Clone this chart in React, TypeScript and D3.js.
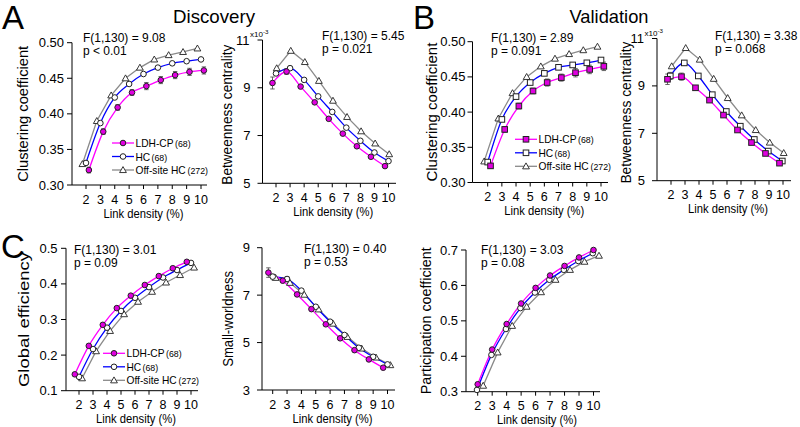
import React from 'react';
import * as d3 from 'd3';

// link densities (%) on the x axis
const density = [2, 3, 4, 5, 6, 7, 8, 9, 10];
const groupNames = ['LDH-CP', 'HC', 'Off-site HC'];
const groupSizes = ['(68)', '(68)', '(272)'];

// A – discovery, clustering coefficient
const discClustLdh = [0.321, 0.375, 0.409, 0.430, 0.439, 0.4475, 0.4545, 0.459, 0.461];
const discClustHc = [0.331, 0.387, 0.423, 0.442, 0.456, 0.465, 0.471, 0.474, 0.4765];
const discClustOff = [0.3295, 0.390, 0.426, 0.450, 0.465, 0.4765, 0.4826, 0.487, 0.492];
const discClustLdhErr = [0.004, 0.004, 0.004, 0.004, 0.005, 0.005, 0.005, 0.005, 0.005];
const discClustHcErr = [0.002, 0.002, 0.002, 0.002, 0.002, 0.002, 0.002, 0.002, 0.002];

// A – discovery, betweenness centrality (x10^-3)
const discBetwLdh = [9.20, 9.68, 9.05, 8.39, 7.70, 7.08, 6.55, 6.11, 5.72];
const discBetwHc = [9.60, 9.82, 9.33, 8.64, 7.99, 7.33, 6.78, 6.29, 5.93];
const discBetwOff = [9.82, 10.55, 10.08, 9.29, 8.46, 7.78, 7.18, 6.67, 6.22];
const discBetwLdhErr = [0.25, 0.12, 0.07, 0.05, 0.04, 0.04, 0.04, 0.04, 0.04];
const discBetwHcErr = [0.08, 0.08, 0.04, 0.03, 0.03, 0.03, 0.03, 0.03, 0.03];

// B – validation, clustering coefficient
const valClustLdh = [0.3236, 0.3754, 0.4086, 0.430, 0.442, 0.449, 0.456, 0.4606, 0.465];
const valClustHc = [0.329, 0.3896, 0.422, 0.442, 0.455, 0.4636, 0.467, 0.470, 0.474];
const valClustOff = [0.330, 0.391, 0.427, 0.450, 0.465, 0.476, 0.4825, 0.488, 0.493];
const valClustLdhErr = [0.003, 0.004, 0.004, 0.004, 0.005, 0.005, 0.006, 0.006, 0.006];
const valClustHcErr = [0.002, 0.002, 0.002, 0.002, 0.002, 0.002, 0.002, 0.002, 0.002];

// B – validation, betweenness centrality (x10^-3)
const valBetwLdh = [9.28, 9.39, 8.92, 8.40, 7.77, 7.14, 6.61, 6.15, 5.74];
const valBetwHc = [9.42, 9.97, 9.42, 8.63, 7.92, 7.30, 6.74, 6.25, 5.83];
const valBetwOff = [9.83, 10.60, 10.11, 9.30, 8.49, 7.76, 7.14, 6.61, 6.17];
const valBetwLdhErr = [0.22, 0.15, 0.05, 0.04, 0.04, 0.04, 0.04, 0.04, 0.04];
const valBetwHcErr = [0.15, 0.10, 0.04, 0.03, 0.03, 0.03, 0.03, 0.03, 0.03];

// C – global efficiency
const globLdh = [0.146, 0.226, 0.285, 0.332, 0.367, 0.397, 0.422, 0.444, 0.462];
const globHc = [0.139, 0.217, 0.277, 0.324, 0.361, 0.391, 0.418, 0.439, 0.459];
const globOff = [0.135, 0.211, 0.268, 0.315, 0.350, 0.378, 0.404, 0.425, 0.446];

// C – small-worldness
const swLdh = [7.95, 7.61, 7.03, 6.41, 5.77, 5.18, 4.68, 4.29, 3.94];
const swHc = [7.78, 7.68, 7.19, 6.51, 5.88, 5.32, 4.78, 4.40, 4.08];
const swOff = [7.73, 7.52, 7.02, 6.40, 5.80, 5.24, 4.75, 4.37, 4.05];
const swLdhErr = [0.20, 0.08, 0.08, 0.06, 0.05, 0.05, 0.05, 0.05, 0.05];
const swHcErr = [0.10, 0.10, 0.06, 0.05, 0.05, 0.05, 0.05, 0.05, 0.05];

// C – participation coefficient
const partLdh = [0.321, 0.419, 0.491, 0.549, 0.593, 0.628, 0.655, 0.679, 0.700];
const partHc = [0.305, 0.404, 0.477, 0.536, 0.580, 0.616, 0.644, 0.669, 0.691];
const partOff = [0.317, 0.411, 0.486, 0.540, 0.581, 0.616, 0.644, 0.667, 0.684];

const FONT = '"Liberation Sans", Arial, Helvetica, sans-serif';
const PINK = '#ff00ff';
const BLUE = '#0000ff';
const GRAY = '#8a8a8a';

const zeros = density.map(() => 0);

const panels = [
  {
    ylabel: 'Clustering coefficient', ylen: 136, ylx: 28, yld: 0,
    yDomain: [0.30, 0.50], yTicks: [0.30, 0.35, 0.40, 0.45, 0.50], fmt: '.2f', lab: 8,
    axisX: 72, yB: 185, yT: 42.7, t2: 86, t10: 201, xEnd: 207,
    ldh: discClustLdh, hc: discClustHc, off: discClustOff, ldhErr: discClustLdhErr, hcErr: discClustHcErr,
    dx: [0.2, 0, -0.25], shape: 'circle',
    stat: ['F(1,130) = 9.08', 'p < 0.01'], sx: 83, sy: 42,
    legend: { x: 112, y: 143 },
  },
  {
    ylabel: 'Betweenness centrality', ylen: 140, ylx: 232, yld: 3,
    yDomain: [5, 11], yTicks: [5, 7, 9, 11], fmt: 'd', lab: 12, exp: true,
    axisX: 262.5, yB: 183.3, yT: 40, t2: 276, t10: 388.5, xEnd: 396,
    ldh: discBetwLdh, hc: discBetwHc, off: discBetwOff, ldhErr: discBetwLdhErr, hcErr: discBetwHcErr,
    dx: [-0.25, 0, 0.05], shape: 'circle',
    stat: ['F(1,130) = 5.45', 'p = 0.021'], sx: 322, sy: 40,
  },
  {
    ylabel: 'Clustering coefficient', ylen: 139, ylx: 437, yld: 0,
    yDomain: [0.30, 0.50], yTicks: [0.30, 0.35, 0.40, 0.45, 0.50], fmt: '.2f', lab: 7,
    axisX: 472.5, yB: 182.5, yT: 41.7, t2: 487.7, t10: 601, xEnd: 608,
    ldh: valClustLdh, hc: valClustHc, off: valClustOff, ldhErr: valClustLdhErr, hcErr: valClustHcErr,
    dx: [0.2, 0, -0.25], shape: 'square',
    stat: ['F(1,130) = 2.89', 'p = 0.091'], sx: 491, sy: 42,
    legend: { x: 515, y: 139.3 },
  },
  {
    ylabel: 'Betweenness centrality', ylen: 142, ylx: 631, yld: 3,
    yDomain: [5, 11], yTicks: [5, 7, 9, 11], fmt: 'd', lab: 12, exp: true,
    axisX: 657, yB: 180.7, yT: 38.5, t2: 671, t10: 783, xEnd: 791,
    ldh: valBetwLdh, hc: valBetwHc, off: valBetwOff, ldhErr: valBetwLdhErr, hcErr: valBetwHcErr,
    dx: [-0.25, -0.05, 0.05], shape: 'square',
    stat: ['F(1,130) = 3.38', 'p = 0.068'], sx: 715, sy: 39.5,
  },
  {
    ylabel: 'Global efficiency', ylen: 135, ylx: 29, yld: 0,
    yDomain: [0.1, 0.5], yTicks: [0.1, 0.2, 0.3, 0.4, 0.5], fmt: '.1f', lab: 8.5,
    axisX: 66, yB: 390.7, yT: 248.3, t2: 79, t10: 191, xEnd: 198,
    ldh: globLdh, hc: globHc, off: globOff, ldhErr: zeros, hcErr: zeros,
    dx: [-0.3, 0, 0.22], shape: 'circle',
    stat: ['F(1,130) = 3.01', 'p = 0.09'], sx: 74, sy: 254,
    legend: { x: 103, y: 353.3 },
  },
  {
    ylabel: 'Small-worldness', ylen: 96, ylx: 233, yls: 14, yld: 0,
    yDomain: [3, 9], yTicks: [3, 5, 7, 9], fmt: 'd', lab: 12,
    axisX: 262, yB: 390, yT: 247.7, t2: 272.7, t10: 387.5, xEnd: 395,
    ldh: swLdh, hc: swHc, off: swOff, ldhErr: swLdhErr, hcErr: swHcErr,
    dx: [-0.3, 0, 0.2], shape: 'circle',
    stat: ['F(1,130) = 0.40', 'p = 0.53'], sx: 304, sy: 252.5,
  },
  {
    ylabel: 'Participation coefficient', ylen: 147, ylx: 431, yld: 0,
    yDomain: [0.3, 0.7], yTicks: [0.3, 0.4, 0.5, 0.6, 0.7], fmt: '.1f', lab: 8,
    axisX: 466, yB: 391.7, yT: 250, t2: 477.7, t10: 593.5, xEnd: 600,
    ldh: partLdh, hc: partHc, off: partOff, ldhErr: zeros, hcErr: zeros,
    dx: [0, -0.05, 0.38], shape: 'circle',
    stat: ['F(1,130) = 3.03', 'p = 0.08'], sx: 481, sy: 254,
  },
];

function Marker({ kind, x, y, fill }: { kind: string; x: number; y: number; fill: string }) {
  if (kind === 'square') {
    return <rect x={x - 2.8} y={y - 2.8} width={5.6} height={5.6} fill={fill} stroke="#222" strokeWidth={1} />;
  }
  if (kind === 'tri') {
    const s = 3.4;
    return (
      <path d={`M${x},${y - s}L${x + s},${y + s * 0.75}L${x - s},${y + s * 0.75}Z`} fill="#fff" stroke="#222" strokeWidth={0.9} />
    );
  }
  return <circle cx={x} cy={y} r={2.8} fill={fill} stroke="#222" strokeWidth={1} />;
}

function Panel({ p }: { p: any }) {
  const x = d3.scaleLinear().domain([2, 10]).range([p.t2, p.t10]);
  const y = d3.scaleLinear().domain(p.yDomain).range([p.yB, p.yT]);
  const fmt = d3.format(p.fmt);
  const top = p.yTicks[p.yTicks.length - 1];

  const series = [
    { vals: p.ldh, err: p.ldhErr, color: PINK, fill: '#e000e0', kind: p.shape, dx: p.dx[0], curve: d3.curveMonotoneX },
    { vals: p.hc, err: p.hcErr, color: BLUE, fill: '#fff', kind: p.shape, dx: p.dx[1], curve: d3.curveMonotoneX },
    { vals: p.off, err: zeros, color: GRAY, fill: '#fff', kind: 'tri', dx: p.dx[2], curve: d3.curveLinear },
  ];
  const order = [2, 1, 0];

  const ylMid = (p.yB + p.yT) / 2 + p.yld;

  return (
    <g>
      {/* axes */}
      <line x1={p.axisX} x2={p.axisX} y1={p.yT} y2={p.yB} stroke="#000" strokeWidth={1} />
      <line x1={p.axisX} x2={p.xEnd} y1={p.yB} y2={p.yB} stroke="#000" strokeWidth={1} />
      {p.yTicks.map((t: number) => (
        <g key={t}>
          <line x1={p.axisX - 5} x2={p.axisX} y1={y(t)} y2={y(t)} stroke="#000" />
          <text
            x={p.axisX - (p.exp && t === top ? 13 : p.lab)}
            y={y(t) + 4.5}
            textAnchor="end"
            fontSize={13}
            fontFamily={FONT}
          >
            {fmt(t)}
          </text>
        </g>
      ))}
      {p.exp && (
        <text x={p.axisX - 12.5} y={p.yT - 3} fontSize={8} fontFamily={FONT}>
          x10<tspan fontSize={6.2} dy={-3}>-3</tspan>
        </text>
      )}
      {density.map((d) => (
        <g key={d}>
          <line x1={x(d)} x2={x(d)} y1={p.yB} y2={p.yB + 4} stroke="#000" />
          <text x={x(d)} y={p.yB + 18.5} textAnchor="middle" fontSize={12.5} fontFamily={FONT}>
            {d}
          </text>
        </g>
      ))}
      <text
        x={(p.axisX + p.xEnd) / 2 + 4}
        y={p.yB + 32.5}
        textAnchor="middle"
        fontSize={12.5}
        fontFamily={FONT}
        textLength={80}
        lengthAdjust="spacingAndGlyphs"
      >
        Link density (%)
      </text>
      <text
        transform={`translate(${p.ylx},${ylMid}) rotate(-90)`}
        textAnchor="middle"
        fontSize={p.yls || 15.5}
        fontFamily={FONT}
        textLength={p.ylen}
        lengthAdjust="spacingAndGlyphs"
      >
        {p.ylabel}
      </text>

      {/* statistics */}
      <text x={p.sx} y={p.sy} fontSize={12} fontFamily={FONT}>
        {p.stat[0]}
      </text>
      <text x={p.sx} y={p.sy + 13} fontSize={12} fontFamily={FONT}>
        {p.stat[1]}
      </text>

      {/* lines */}
      {order.map((i) => {
        const s = series[i];
        const line = d3
          .line<number>()
          .x((v, k) => x(density[k] + s.dx))
          .y((v) => y(v))
          .curve(s.curve);
        return <path key={'l' + i} d={line(s.vals) || ''} fill="none" stroke={s.color} strokeWidth={1.3} />;
      })}
      {/* error bars */}
      {order.map((i) => {
        const s = series[i];
        return s.vals.map((v: number, k: number) => {
          const e = s.err[k];
          if (!e) return null;
          const cx = x(density[k] + s.dx);
          return (
            <g key={'e' + i + '-' + k} stroke="#555" strokeWidth={0.9}>
              <line x1={cx} x2={cx} y1={y(v - e)} y2={y(v + e)} />
              <line x1={cx - 2.2} x2={cx + 2.2} y1={y(v - e)} y2={y(v - e)} />
              <line x1={cx - 2.2} x2={cx + 2.2} y1={y(v + e)} y2={y(v + e)} />
            </g>
          );
        });
      })}
      {/* markers */}
      {order.map((i) => {
        const s = series[i];
        return s.vals.map((v: number, k: number) => (
          <Marker key={'m' + i + '-' + k} kind={s.kind} x={x(density[k] + s.dx)} y={y(v)} fill={s.fill} />
        ));
      })}

      {p.legend && <Legend x={p.legend.x} y={p.legend.y} shape={p.shape} />}
    </g>
  );
}

function Legend({ x, y, shape }: { x: number; y: number; shape: string }) {
  // sizeX: where the group size starts, measured from the label's left edge
  const rows = [
    { color: PINK, fill: '#e000e0', kind: shape, sizeX: 39.5 },
    { color: BLUE, fill: '#fff', kind: shape, sizeX: 16 },
    { color: GRAY, fill: '#fff', kind: 'tri', sizeX: 52 },
  ];
  return (
    <g>
      {rows.map((r, i) => {
        const yy = y + i * 13.5;
        const tx = x + 23.5;
        return (
          <g key={i}>
            <line x1={x} x2={x + 22} y1={yy} y2={yy} stroke={r.color} strokeWidth={1.3} />
            <Marker kind={r.kind} x={x + 11} y={yy} fill={r.fill} />
            <text x={tx} y={yy + 4} fontSize={10.2} fontFamily={FONT}>
              {groupNames[i]}
            </text>
            <text x={tx + r.sizeX} y={yy + 4} fontSize={8.8} fontFamily={FONT}>
              {groupSizes[i]}
            </text>
          </g>
        );
      })}
    </g>
  );
}

export default function App() {
  return (
    <svg
      width={800}
      height={427}
      viewBox="0 0 800 427"
      style={{ position: 'absolute', left: 0, top: 0, background: '#fff' }}
    >
      <rect width={800} height={427} fill="#fff" />
      <text x={2} y={29} fontSize={33} fontFamily={FONT}>A</text>
      <text x={413} y={29} fontSize={33} fontFamily={FONT}>B</text>
      <text x={1} y={258} fontSize={33} fontFamily={FONT}>C</text>
      <text x={214} y={23} textAnchor="middle" fontSize={19} fontFamily={FONT} textLength={82} lengthAdjust="spacingAndGlyphs">
        Discovery
      </text>
      <text x={609} y={23} textAnchor="middle" fontSize={19} fontFamily={FONT} textLength={79} lengthAdjust="spacingAndGlyphs">
        Validation
      </text>
      {panels.map((p, i) => (
        <Panel key={i} p={p} />
      ))}
    </svg>
  );
}
